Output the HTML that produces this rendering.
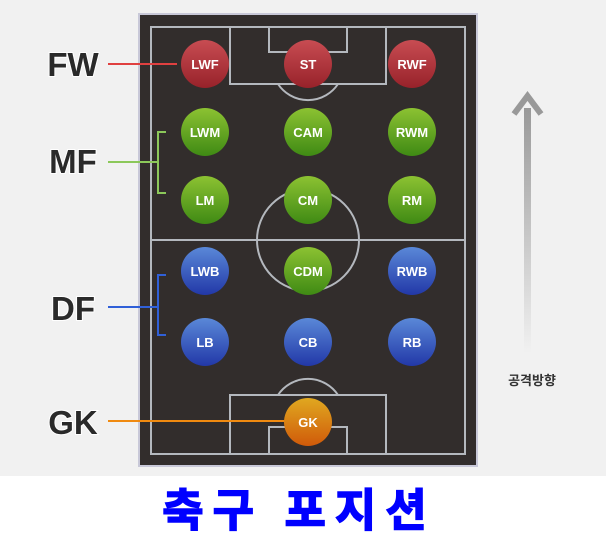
<!DOCTYPE html>
<html><head><meta charset="utf-8"><style>
body{margin:0;width:606px;height:540px;background:#fff;overflow:hidden;font-family:"Liberation Sans","Noto Sans CJK KR",sans-serif}
</style></head><body>
<svg width="606" height="540" xmlns="http://www.w3.org/2000/svg" style="position:absolute;left:0;top:0">
<defs>
<linearGradient id="r" x1="0" y1="0" x2="0" y2="1"><stop offset="0" stop-color="#c84c52"/><stop offset="1" stop-color="#98222a"/></linearGradient>
<linearGradient id="g" x1="0" y1="0" x2="0" y2="1"><stop offset="0" stop-color="#8cc232"/><stop offset="1" stop-color="#3f8a14"/></linearGradient>
<linearGradient id="b" x1="0" y1="0" x2="0" y2="1"><stop offset="0" stop-color="#5a88d8"/><stop offset="1" stop-color="#2238a8"/></linearGradient>
<linearGradient id="o" x1="0" y1="0" x2="0" y2="1"><stop offset="0" stop-color="#e0a820"/><stop offset="1" stop-color="#d05a0a"/></linearGradient>
<linearGradient id="ar" x1="0" y1="0" x2="0" y2="1"><stop offset="0" stop-color="#999"/><stop offset="1" stop-color="#f1f1f1"/></linearGradient>
</defs>
<rect x="0" y="0" width="606" height="476" fill="#f1f1f1"/>
<rect x="139" y="14" width="338" height="452" fill="#322d2c" stroke="#c8c8d8" stroke-width="2"/>
<g fill="none" stroke="#b4b8be" stroke-width="2">
<rect x="151" y="27" width="314" height="427"/>
<line x1="151" y1="240" x2="465" y2="240"/>
<circle cx="308" cy="240" r="51"/>
<rect x="230" y="27" width="156" height="57"/>
<rect x="269" y="27" width="78" height="25"/>
<path d="M278 84 A36 36 0 0 0 338 84"/>
<rect x="230" y="395" width="156" height="59"/>
<rect x="269" y="427" width="78" height="27"/>
<path d="M278 395 A36 36 0 0 1 338 395"/>
</g>
<g stroke-width="2" fill="none">
<line x1="108" y1="64" x2="177" y2="64" stroke="#e04040"/>
<path d="M108 162H158M166 132H158V193H166" stroke="#8cc85a"/>
<path d="M108 307H158M166 275H158V335H166" stroke="#3060d8"/>
<line x1="108" y1="421" x2="285" y2="421" stroke="#f08a10"/>
</g>
<rect x="524" y="108" width="7" height="245" fill="url(#ar)"/>
<path d="M514 114 L527.5 96 L541 114" fill="none" stroke="#999" stroke-width="6"/>
<g font-weight="bold" font-size="33" fill="#2a2a2a" text-anchor="middle" style="paint-order:stroke" stroke="#fff" stroke-width="2">
<text x="73" y="76">FW</text><text x="73" y="173">MF</text><text x="73" y="320">DF</text><text x="73" y="434">GK</text>
</g>
<text x="532" y="385" font-size="13" font-weight="bold" fill="#333" text-anchor="middle">공격방향</text>
<g font-weight="bold" font-size="13" fill="#fff" text-anchor="middle">
<circle cx="205" cy="64" r="24" fill="url(#r)"/><text x="205" y="69">LWF</text>
<circle cx="308" cy="64" r="24" fill="url(#r)"/><text x="308" y="69">ST</text>
<circle cx="412" cy="64" r="24" fill="url(#r)"/><text x="412" y="69">RWF</text>
<circle cx="205" cy="132" r="24" fill="url(#g)"/><text x="205" y="137">LWM</text>
<circle cx="308" cy="132" r="24" fill="url(#g)"/><text x="308" y="137">CAM</text>
<circle cx="412" cy="132" r="24" fill="url(#g)"/><text x="412" y="137">RWM</text>
<circle cx="205" cy="200" r="24" fill="url(#g)"/><text x="205" y="205">LM</text>
<circle cx="308" cy="200" r="24" fill="url(#g)"/><text x="308" y="205">CM</text>
<circle cx="412" cy="200" r="24" fill="url(#g)"/><text x="412" y="205">RM</text>
<circle cx="205" cy="271" r="24" fill="url(#b)"/><text x="205" y="276">LWB</text>
<circle cx="308" cy="271" r="24" fill="url(#g)"/><text x="308" y="276">CDM</text>
<circle cx="412" cy="271" r="24" fill="url(#b)"/><text x="412" y="276">RWB</text>
<circle cx="205" cy="342" r="24" fill="url(#b)"/><text x="205" y="347">LB</text>
<circle cx="308" cy="342" r="24" fill="url(#b)"/><text x="308" y="347">CB</text>
<circle cx="412" cy="342" r="24" fill="url(#b)"/><text x="412" y="347">RB</text>
<circle cx="308" cy="422" r="24" fill="url(#o)"/><text x="308" y="427">GK</text>
</g>
<text x="299" y="526" font-size="45" font-weight="bold" fill="#0000ff" text-anchor="middle" letter-spacing="9" stroke="#0000ff" stroke-width="1.5">축구 포지션</text>
</svg>
</body></html>
